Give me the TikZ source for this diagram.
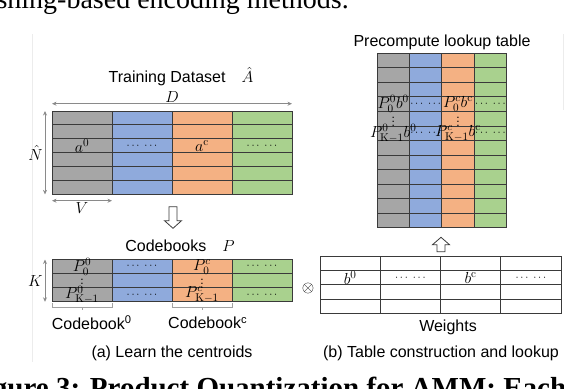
\RequirePackage{fix-cm}
\documentclass[tikz,border=0pt]{standalone}
\usepackage[no-math]{fontspec}
\setmainfont{Liberation Sans}
\newfontfamily\paperfont{Liberation Serif}
\usetikzlibrary{arrows.meta}

\definecolor{cgray}{HTML}{A6A6A6}
\definecolor{cblue}{HTML}{8FAADC}
\definecolor{corange}{HTML}{F4B183}
\definecolor{cgreen}{HTML}{A9D18E}
\definecolor{cline}{HTML}{3A3A3A}
\definecolor{cdim}{HTML}{8A8A8A}

\begin{document}
\begin{tikzpicture}[
    x=1pt, y=-1pt,
    >={Stealth[length=4.5pt, width=4pt]},
    every node/.style={font=\fontsize{16}{19}\selectfont, inner sep=1pt},
    cell/.style={draw=cline, line width=0.9pt, fill=#1, inner sep=0pt, outer sep=0pt},
    dimline/.style={<->, draw=cdim, line width=0.8pt},
    dots/.style={font=\fontsize{11}{13}\selectfont},
    vdot/.style={font=\fontsize{12}{14}\selectfont},
    bracket/.style={draw=cdim!80, line width=0.7pt},
    hollow/.style={draw=cline, fill=white, line width=0.8pt},
    paper/.style={font=\paperfont\fontsize{28}{32}\selectfont, inner sep=0pt},
    paperbold/.style={font=\paperfont\bfseries\fontsize{29}{33}\selectfont, inner sep=0pt}
]

\useasboundingbox (0,0) rectangle (564,388);

\def\lx{52}    % left tables
\def\cw{60}
\def\ty{111}   % dataset top
\def\rh{13.9}
\def\ky{259.5} % codebooks top
\def\kh{14.1}
\def\px{377}   % lookup table
\def\pw{32.4}
\def\py{53.3}
\def\ph{14.53}
\def\wx{320}   % weights
\def\ww{60.25}
\def\wy{256}
\def\wh{14.4}

% text of the page around the figure
\node[paper, anchor=base east] (prevtext) at (349, 9) {shing-based encoding methods.};
\node[paperbold, anchor=base west] (figcap) at (-33, 397) {Figure 3: Product Quantization for AMM: Each};
\draw[gray!15, line width=0.6pt] (32,34) -- (32,362);
\draw[gray!15, line width=0.6pt] (563,34) -- (563,110);

% training dataset
\node (atitle) at (181, 77) {Training Dataset\quad$\hat{A}$};
\foreach \c/\col in {0/cgray,1/cblue,2/corange,3/cgreen}
  \foreach \r in {0,...,5}
    \node[cell=\col, minimum width=\cw, minimum height=\rh]
      (a-\r-\c) at (\lx+\c*\cw+\cw/2, \ty+\r*\rh+\rh/2) {};

\node (a0) at (a-2-0) {$a^0$};
\node[dots] (adots1) at (a-2-1) {$\cdots\ \cdots$};
\node (ac) at (a-2-2) {$a^{\mathrm{c}}$};
\node[dots] (adots3) at (a-2-3) {$\cdots\ \cdots$};

% sizes of the dataset
\coordinate (dl) at (\lx, 103.7);
\coordinate (dr) at (\lx+4*\cw, 103.7);
\coordinate (nt) at (45, \ty);
\coordinate (nb) at (45, \ty+6*\rh);
\coordinate (vl) at (\lx, 200.7);
\coordinate (vr) at (\lx+\cw, 200.7);
\draw[dimline] (dl) -- node[above=0pt] (dlab) {$D$} (dr);
\draw[dimline] (nt) -- node[left=1pt] (nlab) {$\hat{N}$} (nb);
\draw[dimline] (vl) -- node[below=0pt] (vlab) {$V$} (vr);

% learn
\draw[hollow, shift={(173,206.7)}]
  (-4,0) -- (4,0) -- (4,14) -- (8.5,14) -- (0,21.6) -- (-8.5,14) -- (-4,14) -- cycle;

% codebooks
\node (ktitle) at (180, 246) {Codebooks\quad$P$};
\foreach \c/\col in {0/cgray,1/cblue,2/corange,3/cgreen}
  \foreach \r in {0,1,2}
    \node[cell=\col, minimum width=\cw, minimum height=\kh]
      (k-\r-\c) at (\lx+\c*\cw+\cw/2, \ky+\r*\kh+\kh/2) {};

\node (p00) at (k-0-0) {$P_0^0$};
\node[vdot] (pv0) at (k-1-0) {$\vdots$};
\node (pk0) at (k-2-0) {$P_{\mathrm{K}-1}^0$};
\node[dots] (kdots1a) at (k-0-1) {$\cdots\ \cdots$};
\node[dots] (kdots1b) at (k-2-1) {$\cdots\ \cdots$};
\node (p0c) at (k-0-2) {$P_0^c$};
\node[vdot] (pvc) at (k-1-2) {$\vdots$};
\node (pkc) at (k-2-2) {$P_{\mathrm{K}-1}^c$};
\node[dots] (kdots3a) at (k-0-3) {$\cdots\ \cdots$};
\node[dots] (kdots3b) at (k-2-3) {$\cdots\ \cdots$};

\coordinate (kt) at (45, \ky);
\coordinate (kb) at (45, \ky+3*\kh);
\draw[dimline] (kt) -- node[left=1pt] (klab) {$K$} (kb);

% codebook brackets
\draw[bracket] (\lx,303) -- (\lx,307) -- (\lx+\cw,307) -- (\lx+\cw,303);
\draw[bracket] (\lx+\cw/2,307) -- ++(0,3);
\draw[bracket] (\lx+2*\cw,303) -- (\lx+2*\cw,307) -- (\lx+3*\cw,307) -- (\lx+3*\cw,303);
\draw[bracket] (\lx+2.5*\cw,307) -- ++(0,3);
\node[anchor=west] (cb0) at (50.7, 323) {Codebook\textsuperscript{0}};
\node[anchor=west] (cbc) at (167, 323) {Codebook\textsuperscript{c}};

\node (capa) at (172, 353) {(a) Learn the centroids};

% lookup table
\node (ptitle) at (442, 42) {Precompute lookup table};
\foreach \c/\col in {0/cgray,1/cblue,2/corange,3/cgreen}
  \foreach \r in {0,...,11}
    \node[cell=\col, minimum width=\pw, minimum height=\ph]
      (p-\r-\c) at (\px+\c*\pw+\pw/2, \py+\r*\ph+\ph/2) {};

\node (pb00) at (p-3-0) {$P_0^0 b^0$};
\node[dots] (pdots1a) at (p-3-1) {$\cdots\ \cdots$};
\node (pb0c) at (p-3-2) {$P_0^c b^{\mathrm{c}}$};
\node[dots] (pdots3a) at (p-3-3) {$\cdots\ \cdots$};
\node[vdot] (pbv0) at (p-4-0) {$\vdots$};
\node[vdot] (pbvc) at (p-4-2) {$\vdots$};
\node (pbk0) at (p-5-0) {$P_{\mathrm{K}-1}^0 b^0$};
\node[dots] (pdots1b) at (p-5-1) {$\cdots\ \cdots$};
\node (pbkc) at (p-5-2) {$P_{\mathrm{K}-1}^c b^{\mathrm{c}}$};
\node[dots] (pdots3b) at (p-5-3) {$\cdots\ \cdots$};

\draw[hollow, shift={(441,251.7)}]
  (-4,0) -- (4,0) -- (4,-7) -- (8.5,-7) -- (0,-14.4) -- (-8.5,-7) -- (-4,-7) -- cycle;

% weights
\node (times) at (308, 288) {$\otimes$};
\foreach \c in {0,...,3}
  \foreach \r in {0,...,3}
    \node[cell=white, minimum width=\ww, minimum height=\wh]
      (w-\r-\c) at (\wx+\c*\ww+\ww/2, \wy+\r*\wh+\wh/2) {};

\node (b0) at (w-1-0) {$b^0$};
\node[dots] (wdots1) at (w-1-1) {$\cdots\ \cdots$};
\node (bc) at (w-1-2) {$b^{\mathrm{c}}$};
\node[dots] (wdots3) at (w-1-3) {$\cdots\ \cdots$};

\node (wlab) at (448, 327) {Weights};
\node (capb) at (441, 353) {(b) Table construction and lookup};

\end{tikzpicture}
\end{document}
